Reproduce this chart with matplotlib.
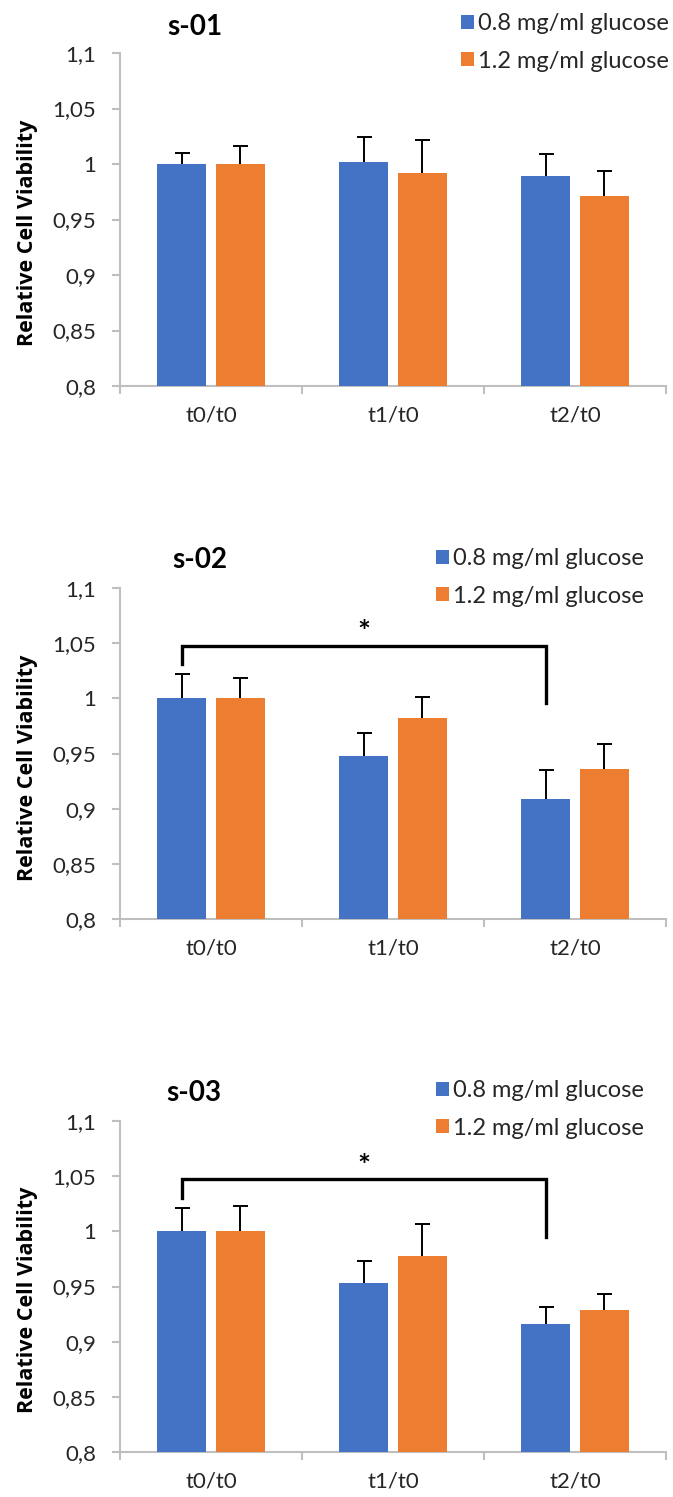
import matplotlib
matplotlib.use("Agg")
import matplotlib.pyplot as plt
from matplotlib.patches import Patch
import numpy as np

categories = ["t0/t0", "t1/t0", "t2/t0"]
series_names = ["0.8 mg/ml glucose", "1.2 mg/ml glucose"]
panel_titles = ["s-01", "s-02", "s-03"]

s01_low = [1.000, 1.002, 0.989]
s01_low_err = [0.010, 0.022, 0.020]
s01_high = [1.000, 0.992, 0.971]
s01_high_err = [0.016, 0.030, 0.023]

s02_low = [1.000, 0.948, 0.909]
s02_low_err = [0.022, 0.021, 0.026]
s02_high = [1.000, 0.982, 0.936]
s02_high_err = [0.018, 0.019, 0.023]

s03_low = [1.000, 0.953, 0.916]
s03_low_err = [0.021, 0.020, 0.015]
s03_high = [1.000, 0.978, 0.929]
s03_high_err = [0.023, 0.029, 0.014]

# significance bracket (t0/t0 vs t2/t0, low glucose): left end, bar level, right end
s02_bracket = [1.031, 1.0475, 0.996]
s03_bracket = [1.030, 1.047, 0.995]

yticks = [0.8, 0.85, 0.9, 0.95, 1.0, 1.05, 1.1]
ytick_labels = ["0,8", "0,85", "0,9", "0,95", "1", "1,05", "1,1"]

BLUE = "#4472C4"
ORANGE = "#ED7D31"
GRAY = "#BFBFBF"
TXT = "#262626"

W, H = 673, 1497
fig = plt.figure(figsize=(W / 100, H / 100), dpi=100)

panels = [
    dict(title=panel_titles[0], low=s01_low, le=s01_low_err, high=s01_high, he=s01_high_err,
         bracket=None, top=53, bottom=386, title_x=195, title_y=27, leg_x=461, leg_y=13, ylab_y=233),
    dict(title=panel_titles[1], low=s02_low, le=s02_low_err, high=s02_high, he=s02_high_err,
         bracket=s02_bracket, top=588, bottom=919, title_x=200, title_y=560, leg_x=436, leg_y=548, ylab_y=768),
    dict(title=panel_titles[2], low=s03_low, le=s03_low_err, high=s03_high, he=s03_high_err,
         bracket=s03_bracket, top=1121, bottom=1452, title_x=194, title_y=1093, leg_x=436, leg_y=1080, ylab_y=1300),
]

font = "Lato"
fs = 16
x = np.arange(len(categories))
off = 0.162
bw = 0.27
ekw = dict(ecolor="black", elinewidth=1.4, capsize=5.4, capthick=1.4, zorder=2)

for i, p in enumerate(panels):
    left, right = 120, 666
    ax = fig.add_axes([left / W, 1 - p["bottom"] / H, (right - left) / W, (p["bottom"] - p["top"]) / H])
    ax.bar(x - off, p["low"], bw, color=BLUE, zorder=3, yerr=p["le"], error_kw=ekw)
    ax.bar(x + off, p["high"], bw, color=ORANGE, zorder=3, yerr=p["he"], error_kw=ekw)
    ax.set_ylim(0.8, 1.1)
    ax.set_xlim(-0.5, 2.5)
    ax.set_yticks(yticks)
    ax.set_yticklabels(ytick_labels, fontsize=fs, family=font, color=TXT)
    ax.set_xticks([-0.5, 0.5, 1.5, 2.5])
    ax.set_xticklabels([])
    ax.set_xticks(x, minor=True)
    ax.set_xticklabels(categories, minor=True, fontsize=fs, family=font, color=TXT)
    ax.tick_params(axis="x", which="minor", length=0, pad=14)
    ax.tick_params(axis="x", which="major", length=6, color=GRAY, width=1.5)
    ax.tick_params(axis="y", length=6, color=GRAY, width=1.5, pad=11)
    for s in ["top", "right"]:
        ax.spines[s].set_visible(False)
    for s in ["left", "bottom"]:
        ax.spines[s].set_color(GRAY)
        ax.spines[s].set_linewidth(1.5)
    ax.patch.set_alpha(0)

    if p["bracket"] is not None:
        yl, yb, yr = p["bracket"]
        xl = x[0] - off
        xr = x[2] - off
        ax.plot([xl, xl, xr, xr], [yl, yb, yb, yr], color="black", lw=2.4, clip_on=False,
                solid_joinstyle="miter", zorder=4)
        ax.text((xl + xr) / 2, yb - 0.001, "*", ha="center", va="bottom", fontsize=22,
                fontweight="bold", family=font)

    fig.text(p["title_x"] / W, 1 - p["title_y"] / H, p["title"], ha="center", va="center",
             fontsize=20, fontweight="bold", family=font)
    fig.text(27 / W, 1 - p["ylab_y"] / H, "Relative Cell Viability", rotation=90,
             ha="center", va="center", fontsize=15.5, fontweight="bold", family="Open Sans")

    handles = [Patch(facecolor=BLUE, edgecolor="none"), Patch(facecolor=ORANGE, edgecolor="none")]
    fig.legend(handles, series_names, loc="upper left",
               bbox_to_anchor=(p["leg_x"] / W, 1 - p["leg_y"] / H), frameon=False,
               prop=dict(family=font, size=17), handlelength=0.55, handleheight=0.55,
               handletextpad=0.15, labelspacing=0.7, borderpad=0, borderaxespad=0,
               labelcolor=TXT)

fig.savefig("out.png", dpi=100, facecolor="white")
